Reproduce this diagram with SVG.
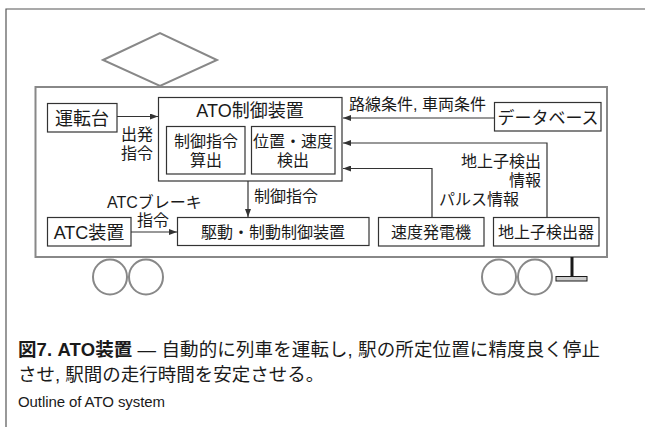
<svg xmlns="http://www.w3.org/2000/svg" width="645" height="427" viewBox="0 0 645 427">
  <style>
    text { font-family: "Liberation Sans", "Noto Sans CJK JP", sans-serif; fill: #1a1a1a; }
    .box { fill: #fff; stroke: #333; stroke-width: 1.2; }
    .lbl { font-size: 18px; text-anchor: middle; }
    .sm { font-size: 16px; text-anchor: middle; }
    .note { font-size: 16px; }
    .car { fill: none; stroke: #888; stroke-width: 2; }
    .wire { fill: none; stroke: #333; stroke-width: 1.2; }
    .frame { fill: none; stroke: #555; stroke-width: 1.2; }
    .cap { font-size: 18.5px; }
  </style>
  <defs>
    <marker id="arrow" markerWidth="8" markerHeight="6" refX="8" refY="3" orient="auto" markerUnits="userSpaceOnUse">
      <path d="M0,0 L8,3 L0,6 Z" fill="#333"/>
    </marker>
  </defs>
  <rect width="645" height="427" fill="#fff"/>

  <!-- figure frame -->
  <path class="frame" d="M6,427 V9 H645"/>

  <!-- pantograph, car body, wheels -->
  <g id="car">
    <polygon class="car" points="103,60 160,33 217,60 160,86"/>
    <rect class="car" x="35.5" y="87" width="571.5" height="170"/>
    <ellipse class="car" cx="110" cy="277" rx="17" ry="17.5"/>
    <ellipse class="car" cx="146" cy="277" rx="17" ry="17.5"/>
    <ellipse class="car" cx="499" cy="277" rx="17" ry="17.5"/>
    <ellipse class="car" cx="535" cy="277" rx="17" ry="17.5"/>
  </g>

  <!-- wayside detector antenna -->
  <g id="antenna">
    <line x1="572" y1="257" x2="572" y2="277" stroke="#1a1a1a" stroke-width="3"/>
    <rect x="556" y="276.5" width="31" height="4.5" fill="#ccc" stroke="#1a1a1a" stroke-width="1"/>
  </g>

  <!-- connectors -->
  <g id="connectors">
    <line class="wire" x1="117" y1="116.5" x2="158" y2="116.5" marker-end="url(#arrow)"/>
    <line class="wire" x1="494" y1="118" x2="343" y2="118" marker-end="url(#arrow)"/>
    <polyline class="wire" points="547,217 547,143 343,143" marker-end="url(#arrow)"/>
    <polyline class="wire" points="432,217 432,168.5 343,168.5" marker-end="url(#arrow)"/>
    <line class="wire" x1="248" y1="181" x2="248" y2="217" marker-end="url(#arrow)"/>
    <line class="wire" x1="131" y1="232" x2="177" y2="232" marker-end="url(#arrow)"/>
  </g>

  <g id="driver-desk">
    <rect class="box" x="47.5" y="103.5" width="69.5" height="28.5"/>
    <text class="lbl" x="82" y="124.5">運転台</text>
  </g>

  <g id="ato-controller">
    <rect class="box" x="158.5" y="97.5" width="183.5" height="83.5"/>
    <text class="lbl" x="250" y="117">ATO制御装置</text>
  </g>

  <g id="command-calc">
    <rect class="box" x="166.5" y="126.5" width="78.5" height="47.5"/>
    <text class="sm" x="206" y="146.5">制御指令</text>
    <text class="sm" x="206" y="165.5">算出</text>
  </g>

  <g id="position-speed">
    <rect class="box" x="251.5" y="126.5" width="83.5" height="47.5"/>
    <text class="sm" x="293" y="146.5">位置・速度</text>
    <text class="sm" x="293" y="165.5">検出</text>
  </g>

  <g id="database">
    <rect class="box" x="494.5" y="102.5" width="106.5" height="28.5"/>
    <text class="sm" x="548" y="123.5" style="font-size:17px">データベース</text>
  </g>

  <g id="atc">
    <rect class="box" x="47.5" y="217.5" width="83.5" height="28.5"/>
    <text class="lbl" x="89" y="239">ATC装置</text>
  </g>

  <g id="drive-brake">
    <rect class="box" x="177.5" y="217.5" width="191.5" height="28"/>
    <text class="sm" x="273" y="237.5">駆動・制動制御装置</text>
  </g>

  <g id="tacho-generator">
    <rect class="box" x="378.5" y="217.5" width="105.5" height="28.5"/>
    <text class="sm" x="431" y="238">速度発電機</text>
  </g>

  <g id="transponder-detector">
    <rect class="box" x="493.5" y="217.5" width="105.5" height="28.5"/>
    <text class="sm" x="546" y="238">地上子検出器</text>
  </g>

  <!-- connector labels -->
  <g id="labels">
    <text class="sm" x="137" y="140">出発</text>
    <text class="sm" x="137" y="158.5">指令</text>
    <text class="note" x="107" y="208">ATCブレーキ</text>
    <text class="sm" x="153" y="226">指令</text>
    <text class="note" x="254" y="202">制御指令</text>
    <text class="note" x="349" y="110">路線条件, 車両条件</text>
    <text class="note" x="541" y="167" text-anchor="end">地上子検出</text>
    <text class="note" x="541" y="186" text-anchor="end">情報</text>
    <text class="note" x="439" y="205">パルス情報</text>
  </g>

  <!-- caption -->
  <g id="caption">
    <text class="cap" x="18" y="356" textLength="582"><tspan font-weight="bold">図7. ATO装置</tspan> — 自動的に列車を運転し, 駅の所定位置に精度良く停止</text>
    <text class="cap" x="18" y="381">させ, 駅間の走行時間を安定させる。</text>
    <text x="18" y="407" style="font-size:15px" textLength="147">Outline of ATO system</text>
  </g>
</svg>
